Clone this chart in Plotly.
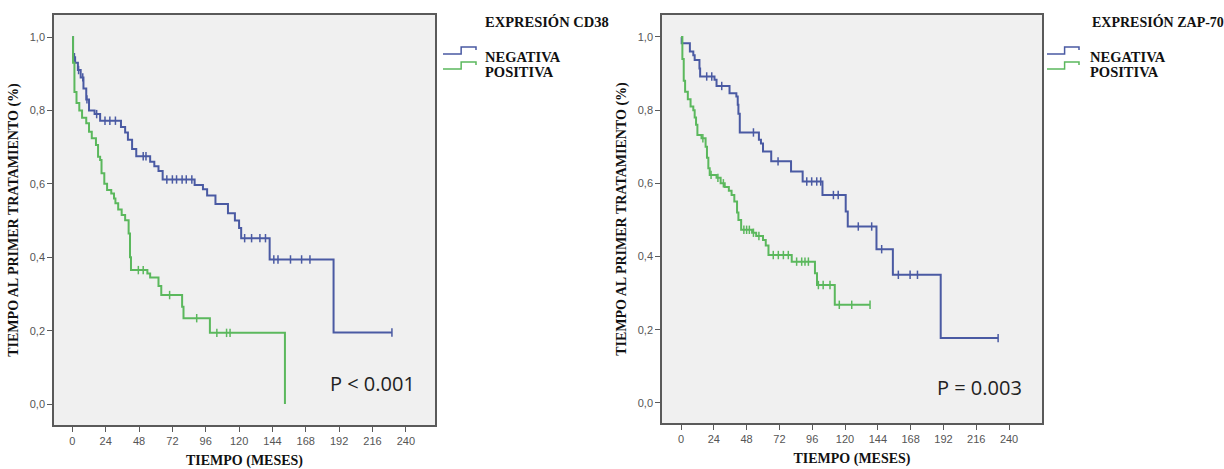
import numpy as np
import plotly.graph_objects as go
from plotly.subplots import make_subplots

# ---------------- DATA ----------------
x_ticks = [0, 24, 48, 72, 96, 120, 144, 168, 192, 216, 240]
y_ticks = [0.0, 0.2, 0.4, 0.6, 0.8, 1.0]

# CD38 - NEGATIVA (blue)
cd38_neg_t = [0, 0.5, 2, 4, 6, 8, 10, 12, 16, 20, 35, 38, 40, 43, 46, 56, 59, 62, 65,
              88, 94, 97, 103, 112, 117, 120, 121.5, 142, 188, 230]
cd38_neg_s = [1.0, 0.945, 0.93, 0.91, 0.89, 0.86, 0.83, 0.80, 0.79, 0.772, 0.755, 0.74, 0.72,
              0.695, 0.675, 0.66, 0.648, 0.635, 0.612, 0.597, 0.585, 0.568, 0.545, 0.52, 0.50,
              0.48, 0.452, 0.394, 0.195, 0.195]
cd38_neg_cens = [1.5, 4.5, 7.5, 10.5, 17.5, 23.5, 27, 31, 51, 53, 68, 72, 75, 79, 82, 86,
                 124, 129, 135, 139, 145, 148, 157, 165, 171, 230]

# CD38 - POSITIVA (green)
cd38_pos_t = [0, 0.5, 1.5, 3, 5, 7, 10, 12, 14, 17, 18.5, 20, 21, 23, 25, 28, 30, 31, 33,
              35.5, 38, 40.5, 41.5, 42.2, 54, 56, 62, 64, 79, 80, 99, 153]
cd38_pos_s = [1.0, 0.93, 0.85, 0.82, 0.80, 0.78, 0.765, 0.742, 0.724, 0.706, 0.674, 0.665,
              0.629, 0.60, 0.583, 0.574, 0.56, 0.547, 0.53, 0.515, 0.501, 0.465, 0.40, 0.365,
              0.356, 0.345, 0.322, 0.297, 0.265, 0.234, 0.194, 0.0]
cd38_pos_cens = [47.5, 51, 70, 89.5, 104, 111, 113.5]

# ZAP-70 - NEGATIVA (blue)
zap_neg_t = [0, 0.5, 6.5, 9, 10, 13.5, 14, 24.5, 26, 35.5, 40.5, 41.5, 42, 43, 57, 58.5, 60,
             66, 80.5, 89, 103.5, 120.5, 122, 143, 155, 190, 232]
zap_neg_s = [1.0, 0.983, 0.96, 0.95, 0.937, 0.914, 0.892, 0.883, 0.866, 0.846, 0.837, 0.815,
             0.79, 0.739, 0.719, 0.709, 0.687, 0.66, 0.632, 0.605, 0.568, 0.523, 0.482, 0.42,
             0.35, 0.177, 0.177]
zap_neg_cens = [18.8, 22.5, 29.8, 53, 71, 92, 95.6, 99.3, 102.2, 111.5, 115, 129.7, 139.5,
                146.8, 159, 167.6, 173, 232]

# ZAP-70 - POSITIVA (green)
zap_pos_t = [0, 1, 2, 3, 5, 7, 9, 10, 11, 12, 15, 18, 19, 20, 21, 26, 29, 32, 35, 37, 39, 41,
             42, 44, 52, 55, 60, 62, 64, 81, 98, 99.5, 112.5, 138.3]
zap_pos_s = [1.0, 0.94, 0.88, 0.85, 0.83, 0.81, 0.80, 0.78, 0.76, 0.732, 0.723, 0.70, 0.67,
             0.641, 0.623, 0.615, 0.60, 0.59, 0.58, 0.568, 0.55, 0.52, 0.50, 0.473, 0.465,
             0.456, 0.445, 0.43, 0.404, 0.386, 0.354, 0.322, 0.268, 0.268]
zap_pos_cens = [16, 22, 27, 31, 46, 48, 50, 53, 57, 67.5, 71.2, 74.9, 78.5, 84.6, 88.3, 90.7,
                93.2, 100.5, 104, 109, 115.8, 124.9, 138.3]

groups = ["NEGATIVA", "POSITIVA"]
legend_titles = ["EXPRESIÓN CD38", "EXPRESIÓN ZAP-70"]
p_values = ["P < 0.001", "P = 0.003"]

# ---------------- STYLE ----------------
BLUE = "#4a5aa3"
GREEN = "#5bb85d"
SERIF = "Liberation Serif"
SANS = "Liberation Sans"
W, H = 1224, 469


def px(x):
    return x / W


def py(y):
    return 1 - y / H


fig = make_subplots(rows=1, cols=2)


def step_value(ts, ss, x):
    ts = np.asarray(ts)
    idx = np.searchsorted(ts, x, side="right") - 1
    return np.asarray(ss)[idx]


panels = [
    (1, [(cd38_neg_t, cd38_neg_s, cd38_neg_cens, BLUE), (cd38_pos_t, cd38_pos_s, cd38_pos_cens, GREEN)]),
    (2, [(zap_neg_t, zap_neg_s, zap_neg_cens, BLUE), (zap_pos_t, zap_pos_s, zap_pos_cens, GREEN)]),
]

for col, series in panels:
    for name, (ts, ss, cens, color) in zip(groups, series):
        fig.add_trace(go.Scatter(x=ts, y=ss, mode="lines", line=dict(color=color, width=2, shape="hv"),
                                 name=name, showlegend=False),
                      row=1, col=col)
        fig.add_trace(go.Scatter(x=cens, y=step_value(ts, ss, cens), mode="markers",
                                 marker=dict(symbol="line-ns-open", size=6, color=color,
                                             line=dict(color=color, width=1.5)),
                                 name=name + " (censurado)", showlegend=False, hoverinfo="skip"),
                      row=1, col=col)

# domains / ranges
fig.update_layout(
    xaxis=dict(domain=[px(54), px(435)], range=[-13.2, 261]),
    xaxis2=dict(domain=[px(662), px(1042)], range=[-13.9, 264.1]),
    yaxis=dict(domain=[py(425), py(15)], range=[-0.057, 1.06]),
    yaxis2=dict(domain=[py(423), py(15)], range=[-0.055, 1.06]),
)

axis_common = dict(showgrid=False, zeroline=False, showline=True, mirror=True,
                   linecolor="#5a5a5a", linewidth=1.5, ticks="outside", ticklen=5,
                   tickcolor="#5a5a5a", tickwidth=1,
                   tickfont=dict(family=SANS, size=11, color="#555555"))
fig.update_xaxes(**axis_common, tickvals=x_ticks,
                 title=dict(text="<b>TIEMPO (MESES)</b>", font=dict(family=SERIF, size=14, color="#111111"),
                            standoff=9))
fig.update_yaxes(**axis_common, tickvals=y_ticks, tickformat=".1f",
                 title=dict(text="<b>TIEMPO AL PRIMER TRATAMIENTO (%)</b>",
                            font=dict(family=SERIF, size=14, color="#111111"), standoff=8))

# ---------------- manual legends (SPSS style) ----------------
annotations = []
shapes = []
legend_layout = [
    # icon_x0, icon_x1, text_x, title_x, title_size
    (443, 476, 483, 483, 14.5),
    (1047, 1079, 1088, 1090, 14),
]
row_y = [57, 72]
for (ix0, ix1, tx, ttx, tsz), title in zip(legend_layout, legend_titles):
    annotations.append(dict(x=px(ttx), y=py(22), xref="paper", yref="paper",
                            xanchor="left", yanchor="middle", showarrow=False,
                            text="<b>" + title + "</b>",
                            font=dict(family=SERIF, size=tsz, color="#111111")))
    for name, color, yy in zip(groups, [BLUE, GREEN], row_y):
        annotations.append(dict(x=px(tx), y=py(yy), xref="paper", yref="paper",
                                xanchor="left", yanchor="middle", showarrow=False,
                                text="<b>" + name + "</b>",
                                font=dict(family=SERIF, size=14.5, color="#111111")))
        xm = ix0 + 0.55 * (ix1 - ix0)
        ylo, yhi = yy - 3, yy - 10
        path = (f"M {px(ix0)},{py(ylo)} L {px(xm)},{py(ylo)} L {px(xm)},{py(yhi)} "
                f"L {px(ix1)},{py(yhi)} L {px(ix1)},{py(yhi + 3)}")
        shapes.append(dict(type="path", xref="paper", yref="paper", path=path,
                           line=dict(color=color, width=1.5)))

for ax, xv, yv, txt in [("", 248, 0.057, p_values[0]), ("2", 251, 0.041, p_values[1])]:
    annotations.append(dict(x=xv, y=yv, xref="x" + ax, yref="y" + ax, xanchor="right",
                            yanchor="middle", showarrow=False, text=txt,
                            font=dict(family="Open Sans", size=20, color="#222222")))

fig.update_layout(
    width=W, height=H, margin=dict(l=0, r=0, t=0, b=0),
    paper_bgcolor="white", plot_bgcolor="#f0f0f0",
    separators=",.",
    showlegend=False,
    annotations=annotations,
    shapes=shapes,
)

fig.write_html("out.html")
